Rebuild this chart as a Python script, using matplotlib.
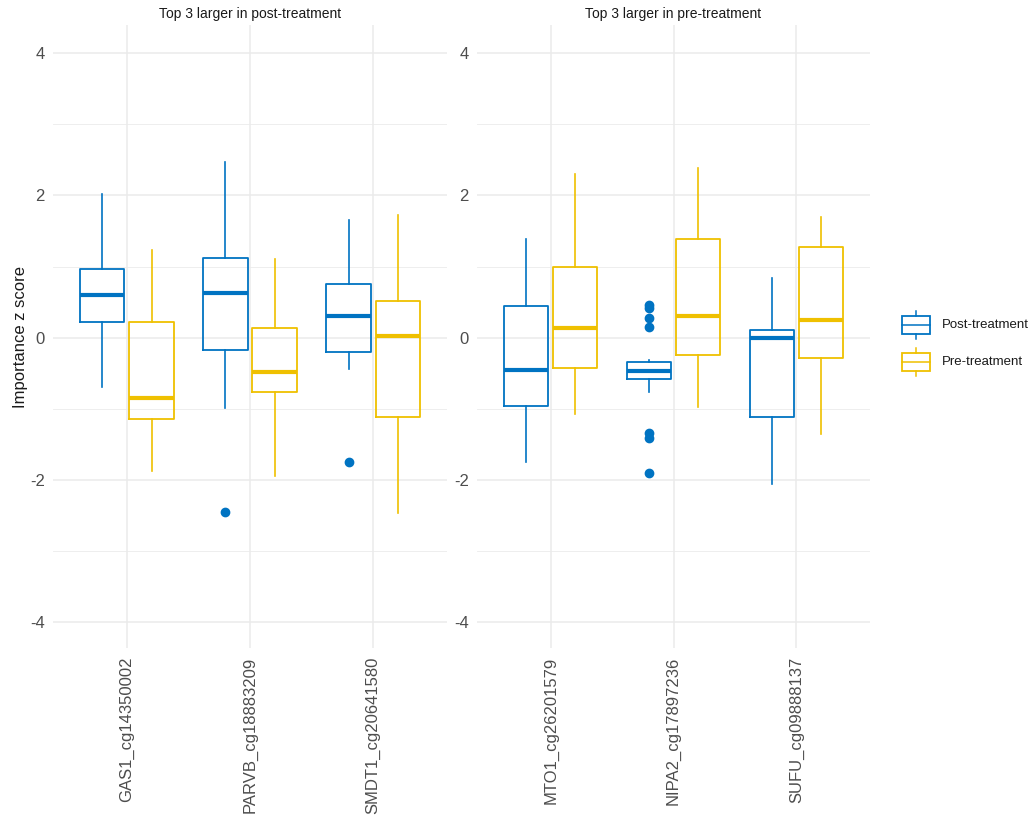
import matplotlib
matplotlib.use("Agg")
import matplotlib.pyplot as plt
from matplotlib.patches import Rectangle
from matplotlib.lines import Line2D

plt.rcParams['font.family'] = ['Liberation Sans', 'DejaVu Sans']

BLUE = "#0073C2"
YELLOW = "#EFC000"
GRID = "#EBEBEB"
TEXT = "#4D4D4D"

panel_titles = ["Top 3 larger in post-treatment", "Top 3 larger in pre-treatment"]
groups = ["Post-treatment", "Pre-treatment"]

left_genes = ["GAS1_cg14350002", "PARVB_cg18883209", "SMDT1_cg20641580"]
right_genes = ["MTO1_cg26201579", "NIPA2_cg17897236", "SUFU_cg09888137"]

# five-number summaries per gene: (whisker low, Q1, median, Q3, whisker high)
left_post = [(-0.70, 0.22, 0.60, 0.97, 2.02),
             (-0.99, -0.18, 0.63, 1.12, 2.47),
             (-0.44, -0.20, 0.31, 0.76, 1.66)]
left_pre = [(-1.88, -1.15, -0.85, 0.22, 1.23),
            (-1.95, -0.77, -0.48, 0.13, 1.11),
            (-2.47, -1.12, 0.02, 0.52, 1.72)]
left_post_out = [[], [-2.45], [-1.75]]
left_pre_out = [[], [], []]

right_post = [(-1.75, -0.97, -0.45, 0.44, 1.39),
              (-0.76, -0.58, -0.47, -0.34, -0.32),
              (-2.06, -1.12, -0.01, 0.10, 0.84)]
right_pre = [(-1.07, -0.43, 0.13, 0.99, 2.30),
             (-0.98, -0.25, 0.31, 1.39, 2.39),
             (-1.36, -0.29, 0.25, 1.28, 1.70)]
right_post_out = [[], [0.46, 0.42, 0.28, 0.15, -1.34, -1.42, -1.91], []]
right_pre_out = [[], [], []]

y_ticks = [-4, -2, 0, 2, 4]
y_minor = [-3, -1, 1, 3]

W, H = 1036, 815
fig = plt.figure(figsize=(W / 100, H / 100), dpi=100)


def stats(rows, outs):
    res = []
    for (lo, q1, med, q3, hi), fl in zip(rows, outs):
        res.append(dict(whislo=lo, q1=q1, med=med, q3=q3, whishi=hi, fliers=fl))
    return res


def draw_panel(rect, genes, post, pre, post_out, pre_out, title, show_ylabel):
    ax = fig.add_axes(rect)
    ax.set_xlim(0.4, len(genes) + 0.6)
    ax.set_ylim(-4.37, 4.40)
    for s in ax.spines.values():
        s.set_visible(False)
    for y in y_ticks:
        ax.axhline(y, color=GRID, lw=1.1, zorder=0)
    for y in y_minor:
        ax.axhline(y, color=GRID, lw=0.6, zorder=0)
    for i in range(len(genes)):
        ax.axvline(i + 1, color=GRID, lw=1.1, zorder=0)
    pos = list(range(1, len(genes) + 1))
    for data, outs, col, off in [(post, post_out, BLUE, -0.2), (pre, pre_out, YELLOW, 0.2)]:
        ax.bxp(stats(data, outs), positions=[p + off for p in pos], widths=0.36,
               showcaps=False, patch_artist=False,
               boxprops=dict(color=col, lw=1.3),
               whiskerprops=dict(color=col, lw=1.2),
               medianprops=dict(color=col, lw=3.0, solid_capstyle='butt'),
               flierprops=dict(marker='o', markersize=6, markerfacecolor=col,
                               markeredgecolor=col, linestyle='none'),
               manage_ticks=False)
    ax.set_xticks(pos)
    ax.set_xticklabels(genes, rotation=90, fontsize=12, color=TEXT)
    ax.set_yticks(y_ticks)
    ax.set_yticklabels([str(v) for v in y_ticks], fontsize=12, color=TEXT)
    ax.tick_params(length=0, pad=6)
    ax.set_title(title, fontsize=10, color="#1A1A1A", pad=5)
    if show_ylabel:
        ax.set_ylabel("Importance z score", fontsize=12, color="#1A1A1A", labelpad=1)
    return ax


bottom = 1 - 648 / H
height = 623 / H
draw_panel([53 / W, bottom, 394 / W, height], left_genes, left_post, left_pre,
           left_post_out, left_pre_out, panel_titles[0], True)
draw_panel([477 / W, bottom, 393 / W, height], right_genes, right_post, right_pre,
           right_post_out, right_pre_out, panel_titles[1], False)

# legend keys drawn in pixel space
lax = fig.add_axes([0, 0, 1, 1])
lax.set_xlim(0, W)
lax.set_ylim(H, 0)
lax.axis('off')
for i, (lab, col) in enumerate(zip(groups, [BLUE, YELLOW])):
    cy = 325 + i * 37
    x0, x1 = 902, 930
    lax.add_patch(Rectangle((x0, cy - 9), x1 - x0, 18, fill=False, ec=col, lw=1.3))
    lax.add_line(Line2D([x0, x1], [cy, cy], color=col, lw=1.1))
    xm = (x0 + x1) / 2
    lax.add_line(Line2D([xm, xm], [cy - 14, cy - 9], color=col, lw=1.1))
    lax.add_line(Line2D([xm, xm], [cy + 9, cy + 14], color=col, lw=1.1))
    lax.text(942, cy, lab, fontsize=9.5, color="#1A1A1A", va='center', ha='left')

fig.savefig("out.png", dpi=100, facecolor="white")
